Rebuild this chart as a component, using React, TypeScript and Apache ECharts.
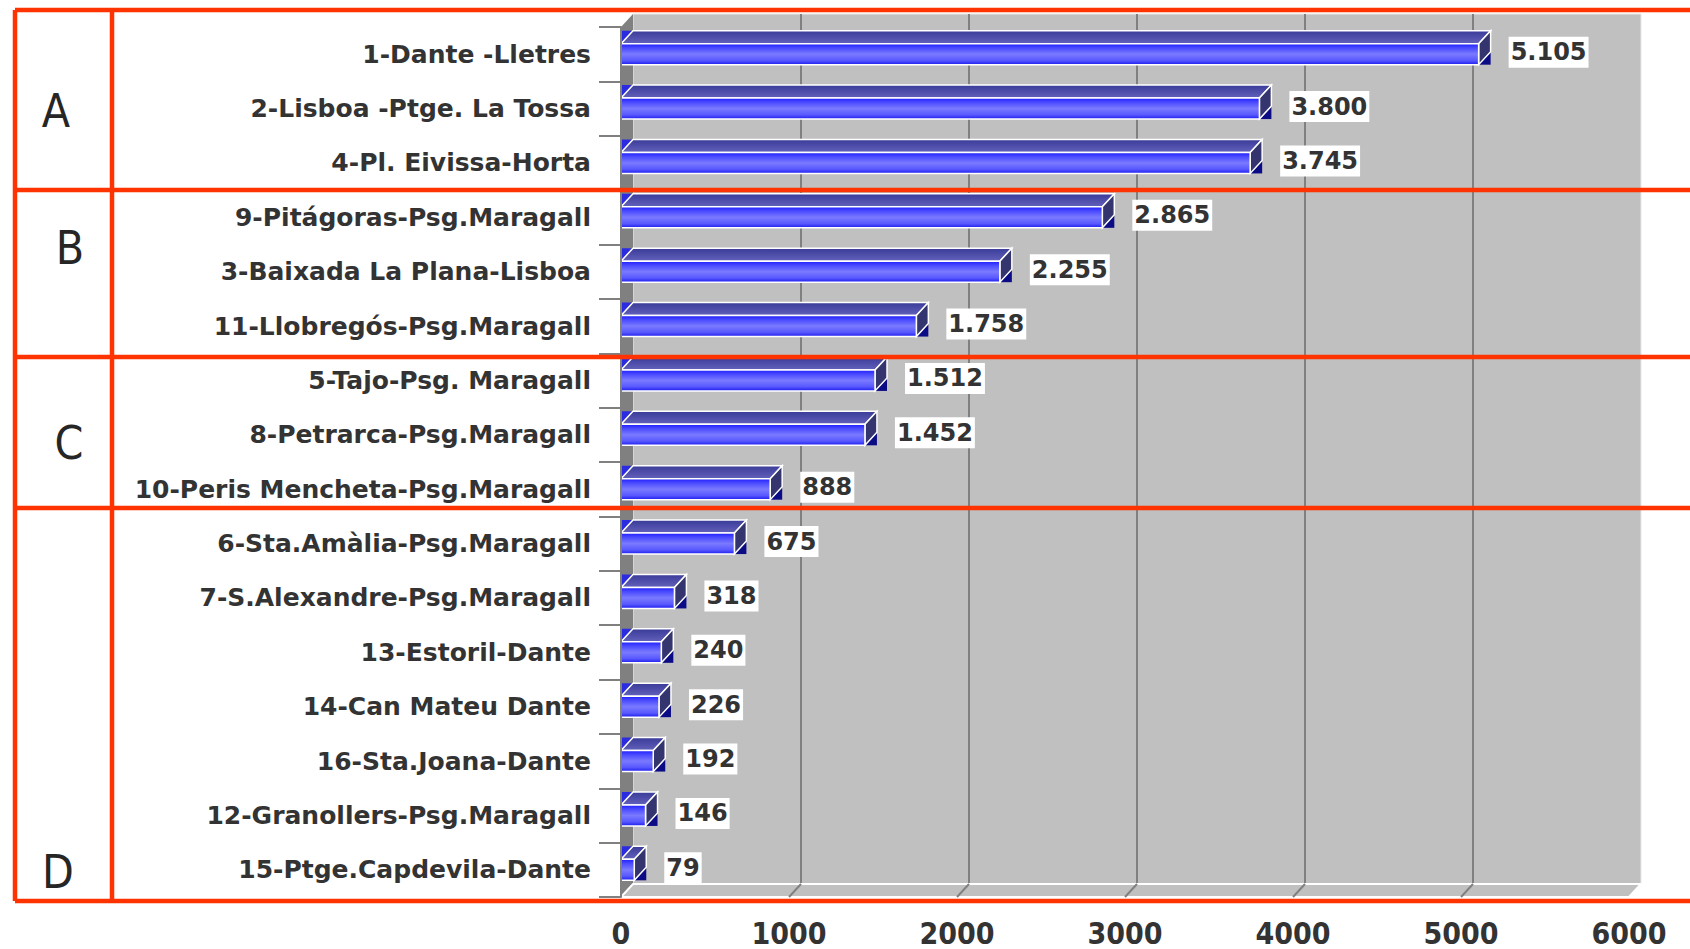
import React, { useEffect, useRef } from "react";
import * as echarts from "echarts";

const categories = [
  "1-Dante -Lletres",
  "2-Lisboa -Ptge. La Tossa",
  "4-Pl. Eivissa-Horta",
  "9-Pitágoras-Psg.Maragall",
  "3-Baixada La Plana-Lisboa",
  "11-Llobregós-Psg.Maragall",
  "5-Tajo-Psg. Maragall",
  "8-Petrarca-Psg.Maragall",
  "10-Peris Mencheta-Psg.Maragall",
  "6-Sta.Amàlia-Psg.Maragall",
  "7-S.Alexandre-Psg.Maragall",
  "13-Estoril-Dante",
  "14-Can Mateu Dante",
  "16-Sta.Joana-Dante",
  "12-Granollers-Psg.Maragall",
  "15-Ptge.Capdevila-Dante",
];
const values = [5105, 3800, 3745, 2865, 2255, 1758, 1512, 1452, 888, 675, 318, 240, 226, 192, 146, 79];
const xMin = 0;
const xMax = 6000;
const xInterval = 1000;
const floorGridValues = [1000, 2000, 3000, 4000, 5000];
const groupLetters = ["A", "B", "C", "D"];

// layout constants (pixels)
const W = 1690;
const H = 949;
const FRONT = { left: 621, right: 1629, top: 27, bottom: 897 };
const DX = 12;
const DY = 13;
const BAR_H = 21;
const RED = "#ff3300";
const RED_W = 4.5;
const frameLeft = 15;
const frameInner = 112;
const frameTop = 10;
const frameBottom = 901;
const separatorsY = [190, 357, 508];
const letterPos = [
  [56, 111],
  [70, 248],
  [69, 443],
  [58, 872],
];

const fmt = (v: number) => String(v).replace(/\B(?=(\d{3})+(?!\d))/g, ".");

export default function App() {
  const ref = useRef<HTMLDivElement>(null);
  useEffect(() => {
    if (!ref.current) return;
    const chart = echarts.init(ref.current, null, { renderer: "svg" });

    const frontFill = new echarts.graphic.LinearGradient(0, 0, 0, 1, [
      { offset: 0, color: "#1e1eff" },
      { offset: 0.2, color: "#4a4aff" },
      { offset: 0.5, color: "#7a7aff" },
      { offset: 0.8, color: "#5858ff" },
      { offset: 1, color: "#1c1cee" },
    ]);
    const topFill = new echarts.graphic.LinearGradient(0, 0, 0, 1, [
      { offset: 0, color: "#3a3a98" },
      { offset: 1, color: "#6262bc" },
    ]);

    const wallW = FRONT.right - FRONT.left;
    const wallH = FRONT.bottom - FRONT.top;

    const graphics: any[] = [
      {
        type: "polygon",
        z: 1,
        shape: {
          points: [
            [FRONT.left, FRONT.top],
            [FRONT.left + DX, FRONT.top - DY],
            [FRONT.left + DX, FRONT.bottom - DY],
            [FRONT.left, FRONT.bottom],
          ],
        },
        style: { fill: "#808080" },
      },
      {
        type: "polygon",
        z: 1,
        shape: {
          points: [
            [FRONT.left, FRONT.bottom],
            [FRONT.left + DX, FRONT.bottom - DY],
            [FRONT.right + DX, FRONT.bottom - DY],
            [FRONT.right, FRONT.bottom],
          ],
        },
        style: { fill: "#c0c0c0", stroke: "#ffffff", lineWidth: 2 },
      },
    ];

    const redLines: number[][] = [
      [frameLeft, frameTop, W, frameTop],
      [frameLeft, frameBottom, W, frameBottom],
      [frameLeft, frameTop, frameLeft, frameBottom],
      [frameInner, frameTop, frameInner, frameBottom],
      ...separatorsY.map((y) => [frameLeft, y, W, y]),
    ];
    redLines.forEach(([x1, y1, x2, y2]) =>
      graphics.push({
        type: "line",
        z: 100,
        shape: { x1, y1, x2, y2 },
        style: { stroke: RED, lineWidth: RED_W },
      })
    );
    groupLetters.forEach((t, i) =>
      graphics.push({
        type: "text",
        z: 100,
        x: letterPos[i][0],
        y: letterPos[i][1],
        style: {
          text: t,
          fill: "#262626",
          font: 'normal 46px "DejaVu Sans Condensed", "DejaVu Sans", sans-serif',
          align: "center",
          verticalAlign: "middle",
        },
      })
    );

    const option: any = {
      animation: false,
      backgroundColor: "#ffffff",
      grid: [
        {
          left: FRONT.left,
          top: FRONT.top,
          width: wallW,
          height: wallH,
          containLabel: false,
        },
        {
          left: FRONT.left + DX,
          top: FRONT.top - DY,
          width: wallW,
          height: wallH,
          show: true,
          backgroundColor: "#c0c0c0",
          borderColor: "#e8e8e8",
          borderWidth: 1,
          containLabel: false,
        },
      ],
      xAxis: [
        {
          type: "value",
          gridIndex: 0,
          min: xMin,
          max: xMax,
          interval: xInterval,
          axisLine: { show: false },
          axisTick: { show: false },
          splitLine: { show: false },
          axisLabel: {
            color: "#333",
            fontFamily: '"DejaVu Sans Condensed", "DejaVu Sans", sans-serif',
            fontWeight: "bold",
            fontSize: 30,
            lineHeight: 28,
            margin: 22,
            formatter: (v: number) => String(v),
          },
        },
        {
          type: "value",
          gridIndex: 1,
          min: xMin,
          max: xMax,
          interval: xInterval,
          axisLine: { show: false },
          axisTick: { show: false },
          axisLabel: { show: false },
          splitLine: {
            show: true,
            showMinLine: false,
            showMaxLine: false,
            lineStyle: { color: "#808080", width: 2 },
          },
        },
      ],
      yAxis: [
        {
          type: "category",
          gridIndex: 0,
          data: categories,
          inverse: true,
          axisLine: { show: true, lineStyle: { color: "#808080", width: 2 } },
          axisTick: { show: true, length: 22, lineStyle: { color: "#808080", width: 2 } },
          axisLabel: {
            color: "#333",
            fontFamily: '"DejaVu Sans", sans-serif',
            fontWeight: "bold",
            fontSize: 25,
            margin: 30,
          },
          z: 6,
        },
        {
          type: "category",
          gridIndex: 1,
          data: categories,
          inverse: true,
          show: false,
        },
      ],
      graphic: graphics,
      series: [
        {
          type: "custom",
          name: "floorGrid",
          xAxisIndex: 0,
          yAxisIndex: 0,
          z: 3,
          silent: true,
          data: floorGridValues.map((v) => [v, 0]),
          encode: { x: 0, y: 1 },
          renderItem: (params: any, api: any) => {
            const cs = params.coordSys;
            const x = api.coord([api.value(0), 0])[0];
            const yb = cs.y + cs.height;
            return {
              type: "line",
              shape: { x1: x + DX, y1: yb - DY, x2: x, y2: yb },
              style: { stroke: "#808080", lineWidth: 2 },
            };
          },
        },
        {
          type: "custom",
          name: "values",
          xAxisIndex: 0,
          yAxisIndex: 0,
          z: 5,
          data: values.map((v, i) => [v, i]),
          encode: { x: 0, y: 1 },
          renderItem: (params: any, api: any) => {
            const v = api.value(0);
            const i = api.value(1);
            const [x1, yc] = api.coord([v, i]);
            const x0 = api.coord([0, i])[0];
            const yTop = yc - BAR_H / 2;
            const yBot = yc + BAR_H / 2;
            const wl = 1.5;
            return {
              type: "group",
              children: [
                {
                  type: "rect",
                  shape: { x: x1, y: yTop - DY, width: DX, height: BAR_H + DY },
                  style: { fill: "#0b0b85" },
                },
                {
                  type: "polygon",
                  shape: { points: [[x0, yTop - DY], [x0 + DX, yTop - DY], [x0, yTop]] },
                  style: { fill: "#2b2be0" },
                },
                {
                  type: "polygon",
                  shape: {
                    points: [
                      [x0, yTop],
                      [x0 + DX, yTop - DY],
                      [x1 + DX, yTop - DY],
                      [x1, yTop],
                    ],
                  },
                  style: { fill: topFill, stroke: "#ffffff", lineWidth: wl },
                },
                {
                  type: "polygon",
                  shape: {
                    points: [
                      [x1, yTop],
                      [x1 + DX, yTop - DY],
                      [x1 + DX, yBot - DY],
                      [x1, yBot],
                    ],
                  },
                  style: { fill: "#34346e", stroke: "#ffffff", lineWidth: wl },
                },
                {
                  type: "rect",
                  shape: { x: x0, y: yTop, width: x1 - x0, height: BAR_H },
                  style: { fill: frontFill, stroke: "#ffffff", lineWidth: wl },
                },
                {
                  type: "text",
                  x: x1 + DX + 18,
                  y: yc - 2,
                  style: {
                    text: fmt(v),
                    fill: "#333",
                    font: 'bold 24px "DejaVu Sans", sans-serif',
                    align: "left",
                    verticalAlign: "middle",
                    backgroundColor: "#ffffff",
                    padding: [4, 2, 3, 2],
                  },
                },
              ],
            };
          },
        },
      ],
    };
    chart.setOption(option);
    return () => chart.dispose();
  }, []);
  return (
    <div
      ref={ref}
      style={{ position: "absolute", left: 0, top: 0, width: W, height: H, background: "#fff" }}
    />
  );
}
